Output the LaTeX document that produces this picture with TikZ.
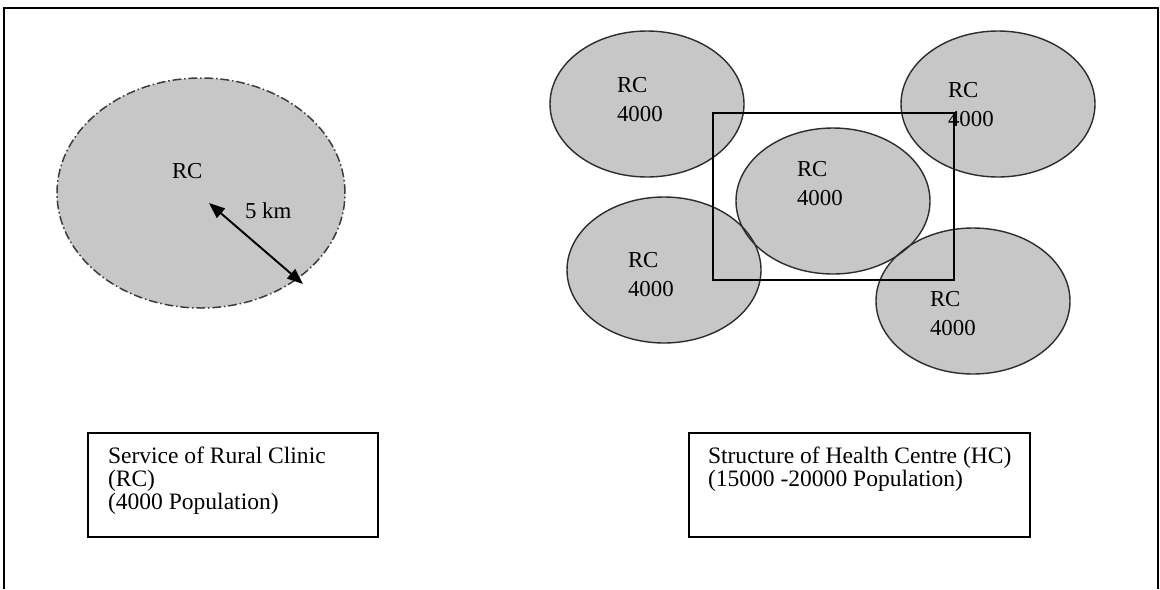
\documentclass[tikz,border=0pt]{standalone}
\usepackage{fontspec}
\setmainfont{Liberation Serif}
\usetikzlibrary{shapes.geometric,arrows.meta}
\definecolor{discfill}{RGB}{199,199,199}
\definecolor{discedge}{RGB}{45,45,45}
\definecolor{dashedge}{RGB}{60,60,60}
\begin{document}
\begin{tikzpicture}[x=0.02cm,y=-0.02cm,
  every node/.style={inner sep=0pt,outer sep=0pt},
  txt/.style={font=\fontsize{13}{16.5}\selectfont, align=left, anchor=north west},
  boxtxt/.style={font=\fontsize{13.4}{13}\selectfont, align=left, anchor=north west},
  disc/.style={ellipse, fill=discfill, minimum width=194*0.02cm, minimum height=146*0.02cm},
  discrim/.style={draw=discedge, line width=0.8pt},
  area/.style={ellipse, fill=discfill, draw=dashedge, line width=0.85pt,
    dash pattern=on 5pt off 1.6pt on 0.9pt off 1.6pt,
    minimum width=288*0.02cm, minimum height=230*0.02cm},
  caption/.style={draw=black, line width=0.9pt, minimum height=104*0.02cm},
  radius/.style={line width=1.1pt, {Triangle[length=9pt,width=7pt]}-{Triangle[length=9pt,width=7pt]}}
]
\useasboundingbox (0,0) rectangle (1160,589);

% page frame, open at the bottom
\draw[line width=1.2pt] (4,589) -- (4,8) -- (1158,8) -- (1158,589);

% ---- left: service area of one rural clinic
\node[area] (svc) at (201,193) {};
\node[txt] (svclbl) at (172,163) {RC};
\coordinate (hub) at (209,203);
\coordinate (rim) at (303,284);
\draw[radius] (hub) -- (rim);
\node[txt, anchor=base west] (km) at (245,218) {5 km};

% ---- right: five clinics grouped into a health centre
\foreach \nm/\cx/\cy in {nw/647/104, ne/998/104, mid/833/201, sw/664/270, se/973/301}
  \node[disc] (\nm) at (\cx,\cy) {};
\foreach \nm in {nw,ne,mid,sw,se}
  \draw[discrim] (\nm.center) ellipse [x radius=97*0.02cm, y radius=73*0.02cm];

\node[txt] (nwlbl)  at (617,77)  {RC\\4000};
\node[txt] (nelbl)  at (948,82)  {RC\\4000};
\node[txt] (midlbl) at (797,161) {RC\\4000};
\node[txt] (swlbl)  at (628,252) {RC\\4000};
\node[txt] (selbl)  at (930,291) {RC\\4000};

\node[draw=black, line width=0.9pt, minimum width=241*0.02cm, minimum height=167*0.02cm] (hc) at (833.5,196.5) {};

% ---- captions
\node[caption, minimum width=290*0.02cm] (rcbox) at (233,485) {};
\node[boxtxt] (rccap) at (108,447) {Service of Rural Clinic\\(RC)\\(4000 Population)};
\node[caption, minimum width=341*0.02cm] (hcbox) at (859.5,485) {};
\node[boxtxt] (hccap) at (708,447) {Structure of Health Centre (HC)\\(15000 -20000 Population)};
\end{tikzpicture}
\end{document}
